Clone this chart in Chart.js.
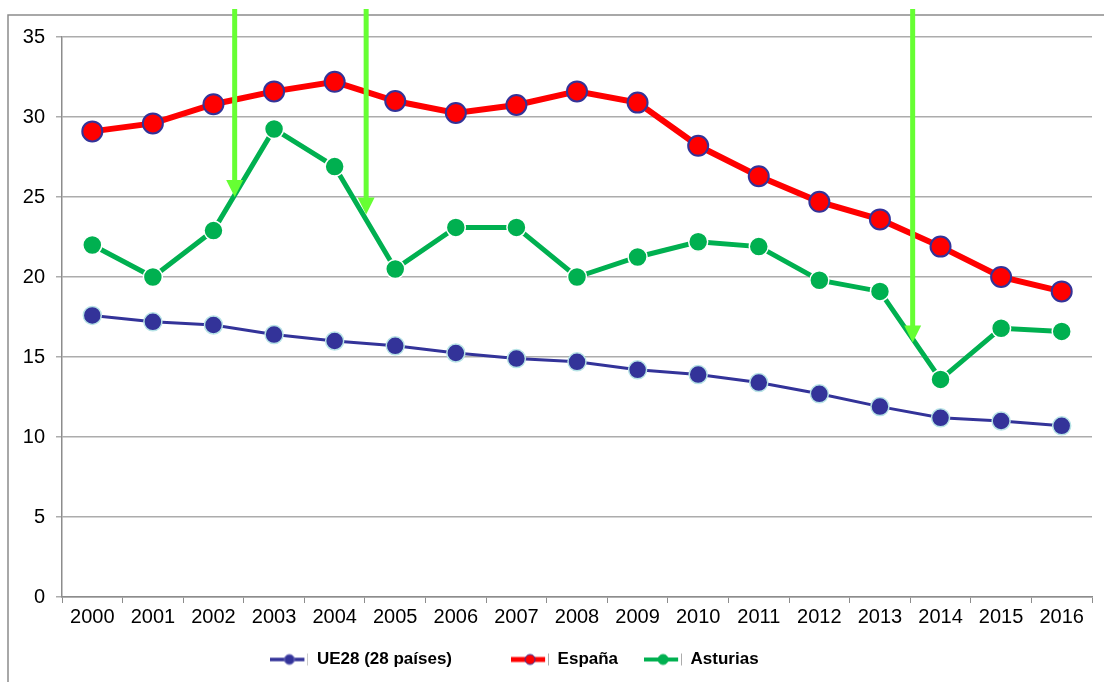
<!DOCTYPE html>
<html>
<head>
<meta charset="utf-8">
<script src="https://cdn.jsdelivr.net/npm/chart.js@4.4.0/dist/chart.umd.min.js"></script>
<style>
  html, body { margin: 0; padding: 0; background: #fff; }
  #wrap { width: 1104px; height: 682px; }
</style>
</head>
<body>
<div id="wrap"><canvas id="myChart"></canvas></div>
<script>
// datos
const years = ['2000', '2001', '2002', '2003', '2004', '2005', '2006', '2007', '2008',
  '2009', '2010', '2011', '2012', '2013', '2014', '2015', '2016'];
const ue28 = [17.6, 17.2, 17.0, 16.4, 16.0, 15.7, 15.25, 14.9, 14.7, 14.2, 13.9, 13.4, 12.7, 11.9, 11.2, 11.0, 10.7];
const espana = [29.1, 29.6, 30.8, 31.6, 32.2, 31.0, 30.25, 30.75, 31.6, 30.9, 28.2, 26.3, 24.7, 23.6, 21.9, 20.0, 19.1];
const asturias = [22.0, 20.0, 22.9, 29.25, 26.9, 20.5, 23.1, 23.1, 20.0, 21.25, 22.2, 21.9, 19.8, 19.1, 13.6, 16.8, 16.6];
const seriesNames = ['UE28 (28 países)', 'España', 'Asturias'];
const yMax = 35;
const yStep = 5;
// flechas: posicion en indice de categoria y valor de la punta
const arrowX = [2.35, 4.52, 13.54];
const arrowTip = [25.0, 23.9, 15.9];

const FONT = "'Liberation Sans', Arial, sans-serif";

function legendIcon(line, lw, fill, border) {
  const c = document.createElement('canvas');
  c.width = 38; c.height = 16;
  const g = c.getContext('2d');
  g.strokeStyle = line; g.lineWidth = lw;
  g.beginPath(); g.moveTo(0, 8); g.lineTo(34, 8); g.stroke();
  g.fillStyle = fill;
  g.beginPath(); g.arc(19, 8, 5, 0, Math.PI * 2); g.fill();
  g.strokeStyle = border; g.lineWidth = 1;
  g.stroke();
  g.fillStyle = '#a0a0a0';
  g.fillRect(37, 2, 1, 12);
  return c;
}
const icons = [
  legendIcon('#333399', 3.5, '#333399', '#6d6dbd'),
  legendIcon('#ff0000', 5, '#ff0000', '#333399'),
  legendIcon('#00b050', 4, '#00b050', '#00b050')
];

const framePlugin = {
  id: 'frame',
  beforeDraw(chart) {
    const c = chart.ctx;
    c.save();
    c.strokeStyle = '#8c8c8c';
    c.lineWidth = 1.5;
    c.beginPath();
    c.moveTo(8, chart.height);
    c.lineTo(8, 15);
    c.lineTo(chart.width, 15);
    c.stroke();
    c.restore();
  },
  afterLayout(chart) {
    // la leyenda del original no esta centrada
    chart.legend.left -= 32;
    chart.legend.right -= 32;
  }
};

const arrowPlugin = {
  id: 'arrows',
  afterDatasetsDraw(chart) {
    const c = chart.ctx;
    const xs = chart.scales.x, ys = chart.scales.y;
    c.save();
    c.fillStyle = '#66ff33';
    arrowX.forEach(function (v, i) {
      const x = xs.getPixelForValue(v);
      const tip = ys.getPixelForValue(arrowTip[i]);
      c.fillRect(x - 2.5, 9, 5, tip - 16 - 9);
      c.beginPath();
      c.moveTo(x - 8.5, tip - 17);
      c.lineTo(x + 8.5, tip - 17);
      c.lineTo(x, tip);
      c.closePath();
      c.fill();
    });
    c.restore();
  }
};

const ctx = document.getElementById('myChart').getContext('2d');
const chart = new Chart(ctx, {
  type: 'line',
  data: {
    labels: years,
    datasets: [{
      label: seriesNames[0],
      data: ue28,
      borderColor: '#333399',
      borderWidth: 3,
      pointRadius: 9,
      pointBackgroundColor: '#333399',
      pointBorderColor: '#b7e3e6',
      pointBorderWidth: 1.5,
      order: 3
    },
    {
      label: seriesNames[1],
      data: espana,
      borderColor: '#ff0000',
      borderWidth: 6,
      pointRadius: 10,
      pointBackgroundColor: '#ff0000',
      pointBorderColor: '#333399',
      pointBorderWidth: 2,
      order: 2
    },
    {
      label: seriesNames[2],
      data: asturias,
      borderColor: '#00b050',
      borderWidth: 5,
      pointRadius: 9.5,
      pointBackgroundColor: '#00b050',
      pointBorderColor: '#ffffff',
      pointBorderWidth: 1.5,
      order: 1
    }]
  },
  options: {
    responsive: true,
    maintainAspectRatio: false,
    animation: false,
    devicePixelRatio: 1,
    layout: { padding: { top: 37, right: 11, bottom: 4, left: 0 } },
    plugins: {
      tooltip: { enabled: false },
      legend: {
        position: 'bottom',
        labels: {
          usePointStyle: true,
          pointStyleWidth: 38,
          padding: 26,
          color: '#000',
          font: { family: FONT, size: 17, weight: 'bold' },
          generateLabels: function (ch) {
            return ch.data.datasets.map(function (ds, i) {
              return {
                text: i === 0 ? ds.label + '       ' : ds.label,
                pointStyle: icons[i],
                fillStyle: ds.borderColor,
                strokeStyle: ds.borderColor,
                lineWidth: 0,
                hidden: false,
                datasetIndex: i,
                fontColor: '#000'
              };
            });
          }
        }
      }
    },
    scales: {
      x: {
        offset: true,
        grid: { offset: true, drawOnChartArea: false, color: '#8c8c8c', tickLength: 6 },
        border: { color: '#8c8c8c', width: 1.5 },
        ticks: { color: '#000', font: { family: FONT, size: 20 }, padding: 2, maxRotation: 0, autoSkip: false },
        afterFit: function (s) { s.height = 28; }
      },
      y: {
        min: 0,
        max: yMax,
        grid: { color: '#acacac', lineWidth: 1.5, tickLength: 6 },
        border: { color: '#8c8c8c', width: 1.5 },
        ticks: { stepSize: yStep, color: '#000', font: { family: FONT, size: 20 }, padding: 11 },
        afterFit: function (s) { s.width = 62; }
      }
    }
  },
  plugins: [framePlugin, arrowPlugin]
});
</script>
</body>
</html>
